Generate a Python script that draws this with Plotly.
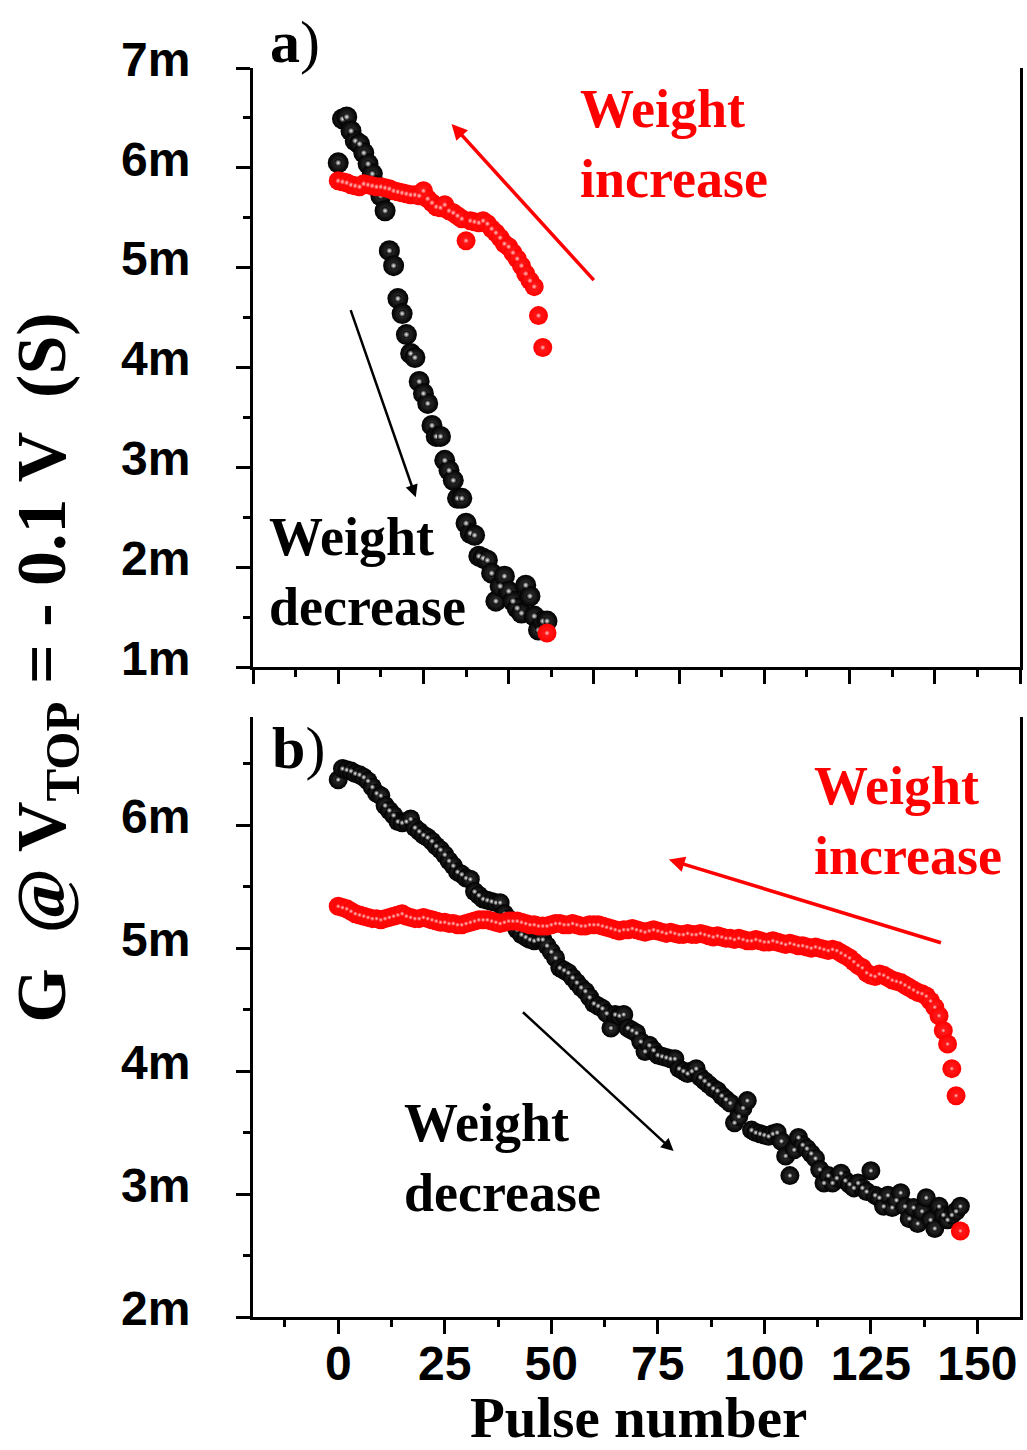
import plotly.graph_objects as go

# ---------------- data (conductance in mS) ----------------
pulse_a_dec = list(range(0, 50))
g_a_dec = [6.05, 6.49, 6.51, 6.37, 6.27, 6.24, 6.15, 6.04, 5.94, 5.82,
           5.72, 5.57, 5.17, 5.02, 4.69, 4.54, 4.33, 4.14, 4.10, 3.86,
           3.74, 3.64, 3.42, 3.31, 3.31, 3.07, 2.97, 2.87, 2.69, 2.69,
           2.44, 2.34, 2.32, 2.11, 2.09, 2.07, 1.94, 1.66, 1.81, 1.91,
           1.76, 1.66, 1.59, 1.54, 1.82, 1.71, 1.51, 1.37, 1.46, 1.46]

pulse_a_inc = list(range(0, 50))
g_a_inc = [5.87, 5.86, 5.85, 5.83, 5.82, 5.81, 5.84, 5.83, 5.82, 5.81,
           5.81, 5.80, 5.79, 5.77, 5.76, 5.75, 5.74, 5.73, 5.73, 5.72,
           5.77, 5.69, 5.65, 5.61, 5.60, 5.63, 5.57, 5.55, 5.52, 5.49,
           5.27, 5.47, 5.46, 5.45, 5.47, 5.44, 5.39, 5.35, 5.30, 5.24,
           5.21, 5.15, 5.09, 5.02, 4.94, 4.87, 4.81, 4.52, 4.20, 1.34]

pulse_b_dec = list(range(0, 147))
g_b_dec = [6.37, 6.46, 6.45, 6.44, 6.42, 6.41, 6.39, 6.36, 6.31, 6.26,
           6.24, 6.16, 6.12, 6.08, 6.03, 6.02, 6.03, 6.05, 5.98, 5.95,
           5.92, 5.90, 5.87, 5.83, 5.80, 5.76, 5.71, 5.67, 5.62, 5.60,
           5.57, 5.56, 5.46, 5.43, 5.40, 5.39, 5.38, 5.37, 5.37, 5.28,
           5.24, 5.20, 5.15, 5.11, 5.09, 5.07, 5.06, 5.07, 5.07, 5.02,
           4.97, 4.92, 4.84, 4.82, 4.80, 4.76, 4.72, 4.68, 4.65, 4.60,
           4.55, 4.53, 4.51, 4.47, 4.35, 4.46, 4.45, 4.46, 4.35, 4.33,
           4.31, 4.24, 4.16, 4.21, 4.17, 4.13, 4.12, 4.11, 4.10, 4.10,
           4.02, 4.00, 3.98, 4.00, 4.02, 3.95, 3.92, 3.89, 3.86, 3.84,
           3.80, 3.77, 3.74, 3.58, 3.63, 3.70, 3.76, 3.52, 3.50, 3.49,
           3.48, 3.47, 3.49, 3.50, 3.43, 3.31, 3.15, 3.36, 3.46, 3.40,
           3.37, 3.33, 3.29, 3.20, 3.09, 3.15, 3.09, 3.13, 3.17, 3.11,
           3.08, 3.05, 3.09, 3.05, 3.02, 3.19, 2.99, 2.97, 2.90, 2.99,
           2.89, 2.95, 3.01, 2.90, 2.80, 2.89, 2.76, 2.86, 2.97, 2.79,
           2.72, 2.90, 2.83, 2.79, 2.83, 2.86, 2.90]

pulse_b_inc = list(range(0, 147))
g_b_inc = [5.34, 5.33, 5.32, 5.30, 5.28, 5.27, 5.26, 5.25, 5.24, 5.24,
           5.23, 5.24, 5.25, 5.26, 5.27, 5.28, 5.26, 5.25, 5.24, 5.24,
           5.25, 5.24, 5.23, 5.22, 5.21, 5.21, 5.20, 5.20, 5.19, 5.19,
           5.20, 5.21, 5.22, 5.23, 5.23, 5.23, 5.22, 5.21, 5.20, 5.21,
           5.22, 5.22, 5.22, 5.21, 5.20, 5.19, 5.19, 5.18, 5.18, 5.18,
           5.19, 5.20, 5.20, 5.19, 5.19, 5.20, 5.19, 5.18, 5.18, 5.19,
           5.19, 5.19, 5.18, 5.17, 5.16, 5.15, 5.14, 5.15, 5.15, 5.16,
           5.15, 5.14, 5.13, 5.14, 5.15, 5.14, 5.13, 5.12, 5.13, 5.12,
           5.11, 5.11, 5.12, 5.11, 5.11, 5.12, 5.11, 5.10, 5.09, 5.10,
           5.09, 5.08, 5.08, 5.07, 5.08, 5.07, 5.06, 5.06, 5.07, 5.06,
           5.05, 5.05, 5.06, 5.05, 5.04, 5.03, 5.04, 5.03, 5.02, 5.02,
           5.01, 5.00, 5.01, 5.00, 4.99, 4.98, 4.99, 4.98, 4.96, 4.94,
           4.92, 4.89, 4.86, 4.84, 4.80, 4.78, 4.77, 4.79, 4.78, 4.76,
           4.74, 4.73, 4.72, 4.70, 4.68, 4.66, 4.64, 4.63, 4.61, 4.57,
           4.52, 4.45, 4.33, 4.22, 4.02, 3.80, 2.70]

x_ticks_b = [0, 25, 50, 75, 100, 125, 150]

# ---------------- figure ----------------
SERIF = "Liberation Serif, Times New Roman, serif"
SANS = "Liberation Sans, Arial, sans-serif"

fig = go.Figure()


def spheres(x, y, xa, ya, base, mid, hi, size, hsize):
    fig.add_trace(go.Scatter(
        x=x, y=y, xaxis=xa, yaxis=ya, mode="markers", showlegend=False,
        marker=dict(size=size, color=base, line=dict(width=0),
                    gradient=dict(type="radial", color=mid)),
        cliponaxis=False))
    fig.add_trace(go.Scatter(
        x=x, y=y, xaxis=xa, yaxis=ya, mode="markers", showlegend=False,
        marker=dict(size=hsize, color=base, line=dict(width=0),
                    gradient=dict(type="radial", color=hi)),
        cliponaxis=False))


spheres(pulse_a_dec, g_a_dec, "x", "y", "#000000", "#3a3a3a", "#f6f6f6", 21, 7)
spheres(pulse_a_inc, g_a_inc, "x", "y", "#ff0000", "#ff2222", "#ffc8c8", 19, 6)
spheres(pulse_b_dec, g_b_dec, "x2", "y2", "#000000", "#3a3a3a", "#f6f6f6", 19, 6)
spheres(pulse_b_inc, g_b_inc, "x2", "y2", "#ff0000", "#ff2222", "#ffc8c8", 19, 5)

axis_common = dict(showline=True, linewidth=3, linecolor="black",
                   showgrid=False, zeroline=False, ticks="outside",
                   ticklen=14, tickwidth=3, tickcolor="black")

TICKFONT = dict(family=SANS, size=48, color="black", weight="bold")

fig.update_layout(
    width=1027, height=1450,
    margin=dict(l=253, r=4, t=68, b=133),
    plot_bgcolor="white", paper_bgcolor="white",
    xaxis=dict(domain=[0, 1], anchor="y", range=[-20, 160], tick0=0, dtick=20,
               showticklabels=False,
               minor=dict(ticks="outside", dtick=10, ticklen=7, tickwidth=3,
                          tickcolor="black"),
               **axis_common),
    xaxis2=dict(domain=[0, 1], anchor="y2", range=[-20, 160],
                tickmode="array", tickvals=x_ticks_b,
                ticktext=[str(v) for v in x_ticks_b],
                tickfont=TICKFONT,
                ticklabelstandoff=-12,
                minor=dict(ticks="outside", tick0=0, dtick=12.5, ticklen=7,
                           tickwidth=3, tickcolor="black"),
                **axis_common),
    yaxis=dict(domain=[0.5204, 1], anchor="x", range=[1, 7], tick0=0, dtick=1,
               ticksuffix="m", mirror=True,
               tickfont=TICKFONT,
               ticklabelstandoff=36, ticklabelshift=-9,
               minor=dict(ticks="outside", dtick=0.5, ticklen=7, tickwidth=3,
                          tickcolor="black"),
               **axis_common),
    yaxis2=dict(domain=[0, 0.4804], anchor="x2", range=[2, 6.88], tick0=0,
                dtick=1, ticksuffix="m", mirror=True,
                tickfont=TICKFONT,
                ticklabelstandoff=36, ticklabelshift=-9,
                minor=dict(ticks="outside", dtick=0.5, ticklen=7, tickwidth=3,
                           tickcolor="black"),
                **axis_common),
)

ann = []
# panel labels (paper coords so they are never hidden)
ann.append(dict(xref="paper", yref="paper", x=(268 - 253) / 770, y=(1317 - 42) / 1249,
                text="<b>a</b>)", showarrow=False, xanchor="left", yanchor="middle",
                font=dict(family=SERIF, size=60, color="black")))
ann.append(dict(xref="paper", yref="paper", x=(270 - 253) / 770, y=(1317 - 748) / 1249,
                text="<b>b</b>)", showarrow=False, xanchor="left", yanchor="middle",
                font=dict(family=SERIF, size=60, color="black")))
# text labels
LBL = 54
ann.append(dict(xref="x", yref="y", x=56.3, y=6.24, text="<b>Weight<br>increase</b>",
                showarrow=False, xanchor="left", yanchor="middle", align="left",
                font=dict(family=SERIF, size=LBL, color="#ff0000")))
ann.append(dict(xref="x", yref="y", x=-16.6, y=1.95, text="<b>Weight<br>decrease</b>",
                showarrow=False, xanchor="left", yanchor="middle", align="left",
                font=dict(family=SERIF, size=LBL, color="black")))
ann.append(dict(xref="x2", yref="y2", x=111.2, y=6.03, text="<b>Weight<br>increase</b>",
                showarrow=False, xanchor="left", yanchor="middle", align="left",
                font=dict(family=SERIF, size=LBL, color="#ff0000")))
ann.append(dict(xref="x2", yref="y2", x=15.0, y=3.29, text="<b>Weight<br>decrease</b>",
                showarrow=False, xanchor="left", yanchor="middle", align="left",
                font=dict(family=SERIF, size=LBL, color="black")))
# arrows
ann.append(dict(xref="x", yref="y", axref="x", ayref="y", x=26.6, y=6.44,
                ax=60.3, ay=4.86, text="", showarrow=True, arrowhead=2,
                arrowsize=0.9, arrowwidth=3.5, arrowcolor="#ff0000"))
ann.append(dict(xref="x", yref="y", axref="x", ayref="y", x=18.2, y=2.70,
                ax=2.8, ay=4.59, text="", showarrow=True, arrowhead=2,
                arrowsize=1, arrowwidth=2.5, arrowcolor="black"))
ann.append(dict(xref="x2", yref="y2", axref="x2", ayref="y2", x=77.6, y=5.72,
                ax=141.8, ay=5.04, text="", showarrow=True, arrowhead=2,
                arrowsize=0.9, arrowwidth=3.5, arrowcolor="#ff0000"))
ann.append(dict(xref="x2", yref="y2", axref="x2", ayref="y2", x=78.7, y=3.35,
                ax=43.0, ay=4.49, text="", showarrow=True, arrowhead=2,
                arrowsize=1, arrowwidth=2.5, arrowcolor="black"))
# axis titles
ann.append(dict(xref="paper", yref="paper", x=(46 - 253) / 770, y=(1317 - 668) / 1249,
                text="<b>G  @ V<sub>TOP</sub> = - 0.1 V  (S)</b>", textangle=-90,
                showarrow=False, xanchor="center", yanchor="middle",
                font=dict(family=SERIF, size=70, color="black")))
ann.append(dict(xref="paper", yref="paper", x=(640 - 253) / 770, y=(1317 - 1418) / 1249,
                text="<b>Pulse number</b>", showarrow=False,
                xanchor="center", yanchor="middle",
                font=dict(family=SERIF, size=57, color="black")))

fig.update_layout(annotations=ann)

fig.write_html("out.html")
